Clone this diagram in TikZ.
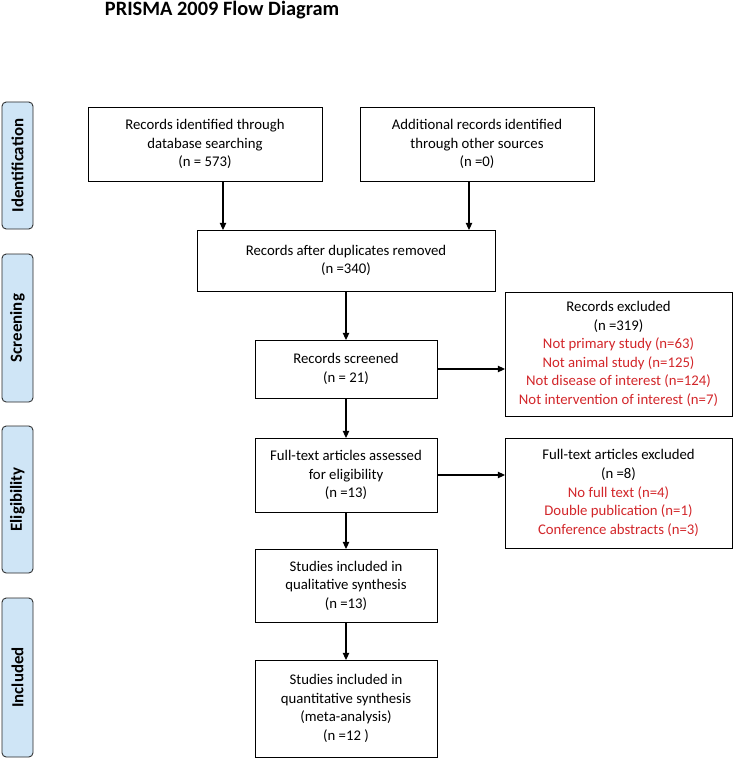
\documentclass[tikz,border=0pt]{standalone}
\usepackage{fontspec}
\setmainfont{Carlito}
\usepgflibrary{arrows.meta}
\definecolor{phaseblue}{RGB}{207,229,246}
\definecolor{exclred}{RGB}{210,38,42}

\begin{document}
\begin{tikzpicture}[flow box/.style={rectangle,draw,line width=0.7pt,align=center,inner sep=0.,outer sep=0.,font=\fontsize{10.5}{13.2}\selectfont},
  phase box/.style={rectangle,draw=black!85,fill=phaseblue,rounded corners=3pt,line width=0.6pt,rotate=90,minimum height=0.775cm,inner sep=0.,outer sep=0.,font=\bfseries\fontsize{12}{14}\selectfont},
  flow arrow/.style={-{Triangle[length=5pt,width=4.5pt]},line width=0.8pt}]%
  \useasboundingbox (0., 0.) rectangle (18.35, -19.);
  \node[anchor=base west,font=\bfseries\fontsize{14.5}{16}\selectfont] (title) at (2.5, -0.4) {PRISMA 2009 Flow Diagram};
  \node[phase box,minimum width=3.175cm] (ident) at (0.4375, -4.1375) {Identification};
  \node[phase box,minimum width=3.7cm] (screen) at (0.4375, -8.2) {Screening};
  \node[phase box,minimum width=3.675cm] (elig) at (0.4375, -12.4875) {Eligibility};
  \node[phase box,minimum width=3.975cm] (incl) at (0.4375, -16.9375) {Included};
  \node[flow box,minimum width=5.85cm,minimum height=1.85cm] (dbrec) at (5.125, -3.6) {Records identified through\\database searching\\(n = 573)};
  \node[flow box,minimum width=5.85cm,minimum height=1.85cm] (otherrec) at (11.925, -3.6) {Additional records identified\\through other sources\\(n =0)};
  \node[flow box,minimum width=7.45cm,minimum height=1.525cm] (dedup) at (8.65, -6.5125) {Records after duplicates removed\\(n =340)};
  \node[flow box,minimum width=4.55cm,minimum height=1.45cm] (screened) at (8.65, -9.225) {Records screened\\(n = 21)};
  \node[flow box,minimum width=5.675cm,minimum height=3.1cm] (excl) at (15.4625, -8.85) {Records excluded\\(n =319)\\\textcolor{exclred}{Not primary study (n=63)}\\\textcolor{exclred}{Not animal study (n=125)}\\\textcolor{exclred}{Not disease of interest (n=124)}\\\textcolor{exclred}{Not intervention of interest (n=7)}};
  \node[flow box,minimum width=4.55cm,minimum height=1.85cm] (fulltext) at (8.65, -11.875) {Full-text articles assessed\\for eligibility\\(n =13)};
  \node[flow box,minimum width=5.675cm,minimum height=2.75cm] (ftexcl) at (15.4625, -12.325) {Full-text articles excluded\\(n =8)\\\textcolor{exclred}{No full text (n=4)}\\\textcolor{exclred}{Double publication (n=1)}\\\textcolor{exclred}{Conference abstracts (n=3)}};
  \node[flow box,minimum width=4.55cm,minimum height=1.825cm] (qual) at (8.65, -14.6375) {Studies included in\\qualitative synthesis\\(n =13)};
  \node[flow box,minimum width=4.55cm,minimum height=2.425cm] (quant) at (8.65, -17.7125) {Studies included in\\quantitative synthesis\\(meta-analysis)\\(n =12 )};
  \coordinate (drop1) at (5.575, 0.);
  \coordinate (drop2) at (11.725, 0.);
  \draw[flow arrow] (dbrec.south -| drop1)--(dedup.north -| drop1);
  \draw[flow arrow] (otherrec.south -| drop2)--(dedup.north -| drop2);
  \draw[flow arrow] (dedup)--(screened);
  \draw[flow arrow] (screened)--(fulltext);
  \draw[flow arrow] (fulltext)--(qual);
  \draw[flow arrow] (qual)--(quant);
  \draw[flow arrow] (screened.east)--(screened.east -| excl.west);
  \draw[flow arrow] (fulltext.east)--(fulltext.east -| ftexcl.west);
\end{tikzpicture}
\end{document}
